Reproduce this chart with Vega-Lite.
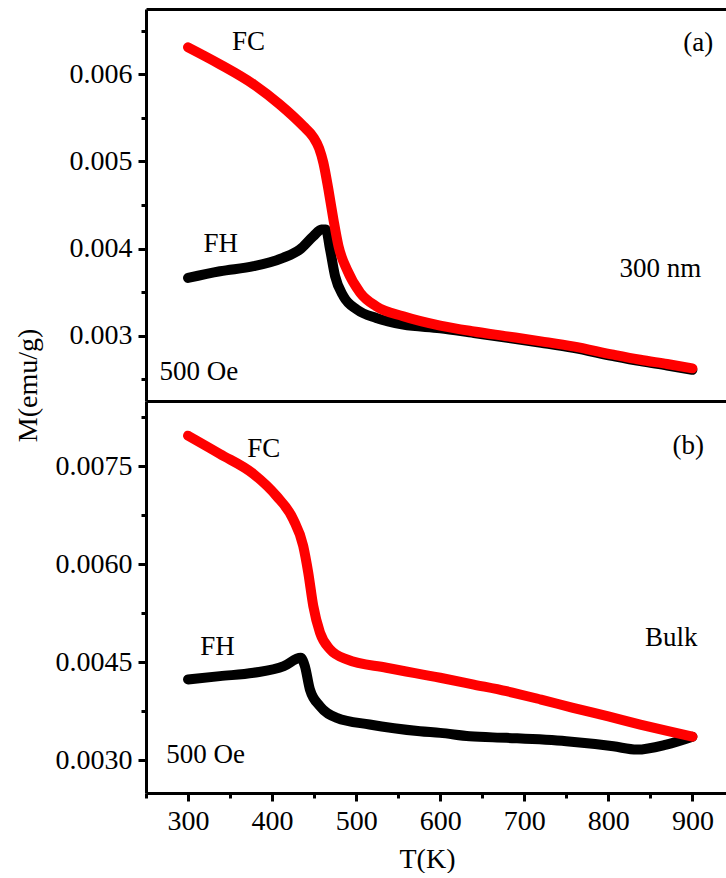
{
  "$schema": "https://vega.github.io/schema/vega-lite/v6.json",
  "padding": {"left": 14, "top": 9, "right": 0, "bottom": 0},
  "spacing": 0,
  "bounds": "flush",
  "config": {
    "font": "Times New Roman, Liberation Serif, serif",
    "view": {"stroke": null},
    "axis": {
      "domainColor": "black", "domainWidth": 3, "tickColor": "black", "tickWidth": 3,
      "labelFont": "Times New Roman, Liberation Serif, serif", "labelFontSize": 28, "labelColor": "black",
      "titleFont": "Times New Roman, Liberation Serif, serif", "titleFontSize": 28, "titleFontWeight": "normal", "titleColor": "black",
      "grid": false, "labelPadding": 6, "labelFlush": false, "labelOverlap": false
    },
    "text": {"font": "Times New Roman, Liberation Serif, serif", "fontSize": 27, "color": "black", "align": "center", "baseline": "middle"}
  },
  "datasets": {
    "curves": [
      {"panel": "a", "series": "FC", "T": 300, "M": 0.00631},
      {"panel": "a", "series": "FC", "T": 338, "M": 0.006115},
      {"panel": "a", "series": "FC", "T": 378, "M": 0.005885},
      {"panel": "a", "series": "FC", "T": 409, "M": 0.005655},
      {"panel": "a", "series": "FC", "T": 437, "M": 0.005406},
      {"panel": "a", "series": "FC", "T": 449, "M": 0.00528},
      {"panel": "a", "series": "FC", "T": 456, "M": 0.00515},
      {"panel": "a", "series": "FC", "T": 461, "M": 0.004985},
      {"panel": "a", "series": "FC", "T": 467, "M": 0.004678},
      {"panel": "a", "series": "FC", "T": 473, "M": 0.004333},
      {"panel": "a", "series": "FC", "T": 479, "M": 0.004027},
      {"panel": "a", "series": "FC", "T": 489, "M": 0.003759},
      {"panel": "a", "series": "FC", "T": 505, "M": 0.003491},
      {"panel": "a", "series": "FC", "T": 524, "M": 0.003337},
      {"panel": "a", "series": "FC", "T": 556, "M": 0.003222},
      {"panel": "a", "series": "FC", "T": 600, "M": 0.003115},
      {"panel": "a", "series": "FC", "T": 640, "M": 0.003048},
      {"panel": "a", "series": "FC", "T": 680, "M": 0.002992},
      {"panel": "a", "series": "FC", "T": 720, "M": 0.002935},
      {"panel": "a", "series": "FC", "T": 758, "M": 0.002877},
      {"panel": "a", "series": "FC", "T": 806, "M": 0.002782},
      {"panel": "a", "series": "FC", "T": 838, "M": 0.002724},
      {"panel": "a", "series": "FC", "T": 870, "M": 0.002675},
      {"panel": "a", "series": "FC", "T": 900, "M": 0.002625},
      {"panel": "a", "series": "FH", "T": 300, "M": 0.003663},
      {"panel": "a", "series": "FH", "T": 338, "M": 0.003739},
      {"panel": "a", "series": "FH", "T": 378, "M": 0.003797},
      {"panel": "a", "series": "FH", "T": 413, "M": 0.003893},
      {"panel": "a", "series": "FH", "T": 433, "M": 0.003989},
      {"panel": "a", "series": "FH", "T": 449, "M": 0.004141},
      {"panel": "a", "series": "FH", "T": 459, "M": 0.004218},
      {"panel": "a", "series": "FH", "T": 464, "M": 0.00422},
      {"panel": "a", "series": "FH", "T": 469, "M": 0.003989},
      {"panel": "a", "series": "FH", "T": 475, "M": 0.003682},
      {"panel": "a", "series": "FH", "T": 485, "M": 0.003452},
      {"panel": "a", "series": "FH", "T": 501, "M": 0.003299},
      {"panel": "a", "series": "FH", "T": 524, "M": 0.003203},
      {"panel": "a", "series": "FH", "T": 556, "M": 0.003126},
      {"panel": "a", "series": "FH", "T": 600, "M": 0.003085},
      {"panel": "a", "series": "FH", "T": 640, "M": 0.00303},
      {"panel": "a", "series": "FH", "T": 680, "M": 0.002975},
      {"panel": "a", "series": "FH", "T": 720, "M": 0.002918},
      {"panel": "a", "series": "FH", "T": 758, "M": 0.00286},
      {"panel": "a", "series": "FH", "T": 806, "M": 0.002765},
      {"panel": "a", "series": "FH", "T": 838, "M": 0.002707},
      {"panel": "a", "series": "FH", "T": 870, "M": 0.002658},
      {"panel": "a", "series": "FH", "T": 900, "M": 0.002608},
      {"panel": "b", "series": "FC", "T": 300, "M": 0.007969},
      {"panel": "b", "series": "FC", "T": 338, "M": 0.007689},
      {"panel": "b", "series": "FC", "T": 378, "M": 0.007382},
      {"panel": "b", "series": "FC", "T": 405, "M": 0.007049},
      {"panel": "b", "series": "FC", "T": 425, "M": 0.006692},
      {"panel": "b", "series": "FC", "T": 437, "M": 0.006282},
      {"panel": "b", "series": "FC", "T": 443, "M": 0.005874},
      {"panel": "b", "series": "FC", "T": 449, "M": 0.005362},
      {"panel": "b", "series": "FC", "T": 457, "M": 0.004954},
      {"panel": "b", "series": "FC", "T": 469, "M": 0.004698},
      {"panel": "b", "series": "FC", "T": 489, "M": 0.004545},
      {"panel": "b", "series": "FC", "T": 536, "M": 0.004417},
      {"panel": "b", "series": "FC", "T": 600, "M": 0.004264},
      {"panel": "b", "series": "FC", "T": 640, "M": 0.00416},
      {"panel": "b", "series": "FC", "T": 679, "M": 0.004058},
      {"panel": "b", "series": "FC", "T": 720, "M": 0.00393},
      {"panel": "b", "series": "FC", "T": 758, "M": 0.003804},
      {"panel": "b", "series": "FC", "T": 800, "M": 0.003672},
      {"panel": "b", "series": "FC", "T": 838, "M": 0.003548},
      {"panel": "b", "series": "FC", "T": 870, "M": 0.00345},
      {"panel": "b", "series": "FC", "T": 900, "M": 0.003362},
      {"panel": "b", "series": "FH", "T": 300, "M": 0.004238},
      {"panel": "b", "series": "FH", "T": 338, "M": 0.004289},
      {"panel": "b", "series": "FH", "T": 378, "M": 0.00434},
      {"panel": "b", "series": "FH", "T": 414, "M": 0.004442},
      {"panel": "b", "series": "FH", "T": 434, "M": 0.004571},
      {"panel": "b", "series": "FH", "T": 439, "M": 0.004442},
      {"panel": "b", "series": "FH", "T": 445, "M": 0.004084},
      {"panel": "b", "series": "FH", "T": 457, "M": 0.003828},
      {"panel": "b", "series": "FH", "T": 477, "M": 0.00365},
      {"panel": "b", "series": "FH", "T": 516, "M": 0.003548},
      {"panel": "b", "series": "FH", "T": 576, "M": 0.003445},
      {"panel": "b", "series": "FH", "T": 600, "M": 0.00342},
      {"panel": "b", "series": "FH", "T": 635, "M": 0.003368},
      {"panel": "b", "series": "FH", "T": 679, "M": 0.003344},
      {"panel": "b", "series": "FH", "T": 750, "M": 0.003292},
      {"panel": "b", "series": "FH", "T": 806, "M": 0.003215},
      {"panel": "b", "series": "FH", "T": 834, "M": 0.003164},
      {"panel": "b", "series": "FH", "T": 869, "M": 0.003241},
      {"panel": "b", "series": "FH", "T": 900, "M": 0.003362}
    ],
    "notes": [
      {"panel": "a", "label": "FC", "T": 372, "M": 0.006374},
      {"panel": "a", "label": "FH", "T": 339, "M": 0.004057},
      {"panel": "a", "label": "500 Oe", "T": 313, "M": 0.002583},
      {"panel": "a", "label": "(a)", "T": 907, "M": 0.006364},
      {"panel": "a", "label": "300 nm", "T": 862, "M": 0.00377},
      {"panel": "b", "label": "FC", "T": 390, "M": 0.007765},
      {"panel": "b", "label": "FH", "T": 335, "M": 0.004733},
      {"panel": "b", "label": "500 Oe", "T": 321, "M": 0.003088},
      {"panel": "b", "label": "(b)", "T": 895, "M": 0.007807},
      {"panel": "b", "label": "Bulk", "T": 875, "M": 0.004867}
    ]
  },
  "vconcat": [
    {
      "width": 580,
      "height": 392,
      "resolve": {"axis": {"x": "independent"}},
      "encoding": {
        "y": {
          "field": "M", "type": "quantitative",
          "scale": {"domain": [0.00225, 0.00675], "nice": false, "zero": false},
          "axis": {
            "values": [0.0025, 0.003, 0.0035, 0.004, 0.0045, 0.005, 0.0055, 0.006, 0.0065],
            "labelExpr": "abs(datum.value*1000 - round(datum.value*1000)) < 0.001 ? format(datum.value, '.3f') : ''",
            "tickSize": {"condition": {"test": "abs(datum.value*1000 - round(datum.value*1000)) < 0.001", "value": 8}, "value": 5},
            "title": "M(emu/g)",
            "titleAngle": 270,
            "titleAlign": "center",
            "titleBaseline": "bottom",
            "titleX": -104,
            "titleY": 376
          }
        }
      },
      "layer": [
        {
          "data": {"name": "curves"},
          "transform": [{"filter": "datum.panel === 'a' && datum.series === 'FH'"}],
          "mark": {"type": "line", "color": "black", "strokeWidth": 10, "strokeCap": "round", "strokeJoin": "round", "interpolate": "monotone"},
          "encoding": {
            "x": {"field": "T", "type": "quantitative", "scale": {"domain": [250, 940], "nice": false, "zero": false},
                  "axis": {"orient": "top", "labels": false, "ticks": false, "title": null}}
          }
        },
        {
          "data": {"name": "curves"},
          "transform": [{"filter": "datum.panel === 'a' && datum.series === 'FC'"}],
          "mark": {"type": "line", "color": "#ff0000", "strokeWidth": 10, "strokeCap": "round", "strokeJoin": "round", "interpolate": "monotone"},
          "encoding": {
            "x": {"field": "T", "type": "quantitative", "scale": {"domain": [250, 940], "nice": false, "zero": false},
                  "axis": {"orient": "bottom", "labels": false, "ticks": false, "title": null}}
          }
        },
        {
          "data": {"name": "notes"},
          "transform": [{"filter": "datum.panel === 'a'"}],
          "mark": {"type": "text"},
          "encoding": {
            "x": {"field": "T", "type": "quantitative", "scale": {"domain": [250, 940], "nice": false, "zero": false}, "axis": null},
            "text": {"field": "label"}
          }
        }
      ]
    },
    {
      "width": 580,
      "height": 392,
      "encoding": {
        "y": {
          "field": "M", "type": "quantitative",
          "scale": {"domain": [0.0025, 0.0085], "nice": false, "zero": false},
          "axis": {
            "values": [0.003, 0.00375, 0.0045, 0.00525, 0.006, 0.00675, 0.0075, 0.00825],
            "labelExpr": "abs(datum.value*10000/15 - round(datum.value*10000/15)) < 0.001 ? format(datum.value, '.4f') : ''",
            "tickSize": {"condition": {"test": "abs(datum.value*10000/15 - round(datum.value*10000/15)) < 0.001", "value": 8}, "value": 5},
            "title": null
          }
        },
        "x": {
          "field": "T", "type": "quantitative",
          "scale": {"domain": [250, 940], "nice": false, "zero": false},
          "axis": {
            "values": [250, 300, 350, 400, 450, 500, 550, 600, 650, 700, 750, 800, 850, 900],
            "labelExpr": "datum.value % 100 === 0 ? datum.label : ''",
            "tickSize": {"condition": {"test": "datum.value % 100 === 0", "value": 8}, "value": 5},
            "title": "T(K)",
            "titlePadding": 10,
            "titleX": 281
          }
        }
      },
      "layer": [
        {
          "data": {"name": "curves"},
          "transform": [{"filter": "datum.panel === 'b' && datum.series === 'FH'"}],
          "mark": {"type": "line", "color": "black", "strokeWidth": 10, "strokeCap": "round", "strokeJoin": "round", "interpolate": "monotone"}
        },
        {
          "data": {"name": "curves"},
          "transform": [{"filter": "datum.panel === 'b' && datum.series === 'FC'"}],
          "mark": {"type": "line", "color": "#ff0000", "strokeWidth": 10, "strokeCap": "round", "strokeJoin": "round", "interpolate": "monotone"}
        },
        {
          "data": {"name": "notes"},
          "transform": [{"filter": "datum.panel === 'b'"}],
          "mark": {"type": "text"},
          "encoding": {"text": {"field": "label"}}
        }
      ]
    }
  ]
}
